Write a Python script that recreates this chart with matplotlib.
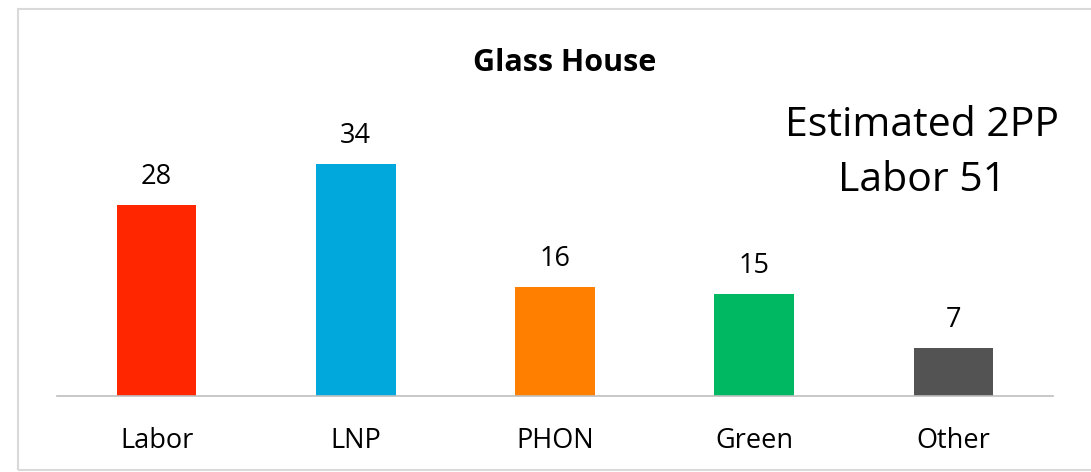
import matplotlib.pyplot as plt
from matplotlib.patches import Rectangle

parties = ['Labor', 'LNP', 'PHON', 'Green', 'Other']
votes = [28, 34, 16, 15, 7]
colors = ['#FF2600', '#00A8DC', '#FF7F00', '#00B861', '#535353']

plt.rcParams['font.family'] = ['Open Sans', 'DejaVu Sans']

W, H = 1091, 472
fig = plt.figure(figsize=(W / 100, H / 100), dpi=100)

# light grey chart frame
fig.patches.append(Rectangle((18 / W, 2 / H), (1100 - 18) / W, (463 - 2) / H,
                             transform=fig.transFigure, fill=False,
                             edgecolor='#D9D9D9', linewidth=1.5))

ax = fig.add_axes([57 / W, 76 / H, (1053 - 57) / W, (396 - 123) / H])
x = range(len(parties))
bars = ax.bar(x, votes, width=0.4, color=colors)
ax.set_xlim(-0.5, len(parties) - 0.5)
ax.set_ylim(0, 40)

for b, v in zip(bars, votes):
    ax.annotate(str(v), (b.get_x() + b.get_width() / 2, v), xytext=(0, 10),
                textcoords='offset points', ha='center', va='bottom', fontsize=19.5)

ax.set_xticks(list(x))
ax.set_xticklabels(parties, fontsize=19.5)
ax.tick_params(axis='x', length=0, pad=22)
ax.set_yticks([])
for s in ['top', 'right', 'left']:
    ax.spines[s].set_visible(False)
ax.spines['bottom'].set_color('#BFBFBF')
ax.spines['bottom'].set_linewidth(1.2)

fig.text(565 / W, 1 - 63 / H, 'Glass House', ha='center', va='center',
         fontsize=22, fontweight='bold')
fig.text(922 / W, 1 - 126 / H, 'Estimated 2PP', ha='center', va='center', fontsize=29.5)
fig.text(922 / W, 1 - 181 / H, 'Labor 51', ha='center', va='center', fontsize=29.5)

fig.savefig('out.png', dpi=100)
